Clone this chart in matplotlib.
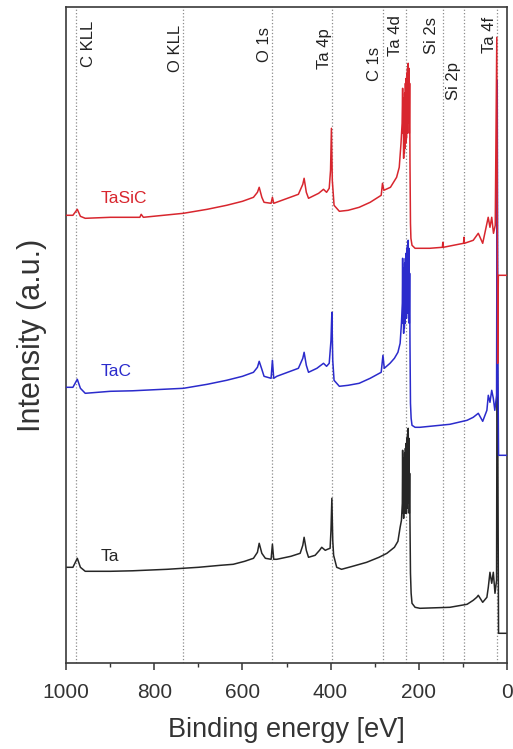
import matplotlib
matplotlib.use('Agg')
import matplotlib.pyplot as plt
from matplotlib.ticker import MultipleLocator

plt.rcParams['font.family'] = ['Liberation Sans', 'DejaVu Sans']

# XPS survey spectra (intensity in arbitrary units)
ta_energy = [1000, 985, 975, 968, 957, 900, 850, 771, 700, 650, 621, 595, 575, 566, 562,
             556, 548, 535, 532, 529, 522, 490, 469, 463, 460, 455, 450, 435, 425, 420,
             412, 407, 401, 399, 397, 395, 393, 386, 375, 350, 318, 290, 272, 255, 247,
             242, 239, 237, 236.3, 235.5, 234.8, 234, 233.2, 232.4, 231.6, 230.8, 230,
             229.2, 228.4, 227.6, 226.8, 226, 225.2, 224.4, 223.6, 222.8, 222, 221.2,
             220.4, 219.6, 218.5, 217, 215, 208, 197, 129, 90, 76, 68, 64.5, 54.5, 45,
             41.8, 38, 34, 30.4, 26.6, 23, 21.5, 20, 18.5, 0]
ta_counts = [96, 96, 105, 96, 92, 92, 92.5, 94, 96, 98, 99, 102, 105, 111, 120,
             110, 105, 104, 119, 104, 104, 107, 110, 118, 126, 113, 106, 108, 113, 116,
             113, 114, 115, 133, 165, 123, 108, 96, 94, 97, 101, 106, 110, 116, 122,
             136, 143, 160, 213, 150, 200, 145, 205, 150, 210, 150, 215,
             155, 220, 150, 225, 155, 228, 160, 235, 160, 225, 150,
             190, 140, 90, 70, 60, 56, 55, 56, 59, 63, 66, 68, 61, 66,
             76, 91, 80, 91, 70, 83, 403, 200, 30, 30]

tac_energy = [1000, 985, 975, 968, 957, 900, 850, 734, 680, 636, 600, 575, 566, 562, 556,
              551, 535, 532, 529, 522, 473, 463, 460, 455, 450, 431, 416, 409, 403, 399,
              397, 395, 392, 380, 360, 335, 310, 285, 281, 278, 265, 255, 247, 242, 239,
              237, 236.3, 235.5, 234.8, 234, 233.2, 232.4, 231.6, 230.8, 230, 229.2,
              228.4, 227.6, 226.8, 226, 225.2, 224.4, 223.6, 222.8, 222, 221.2, 220.4,
              219.6, 218.5, 217, 215, 208, 197, 129, 90, 76, 64.5, 54.5, 45, 41.8, 38,
              34, 30.4, 27, 23, 21.5, 20, 18.5, 0]
tac_counts = [276, 276, 284, 275, 270, 272, 272.5, 275, 279, 283, 287, 291, 296, 302, 294,
              287, 285, 303, 285, 287, 295, 305, 311, 298, 291, 295, 300, 297, 300, 323,
              351, 303, 283, 277, 278, 280, 285, 291, 308, 295, 300, 305, 311, 320, 340,
              360, 405, 340, 390, 330, 395, 335, 400, 340, 405, 345,
              410, 345, 415, 350, 418, 355, 423, 350, 415, 340, 390,
              320, 260, 245, 238, 236, 236, 239, 243, 246, 250, 242, 253, 268, 261,
              273, 265, 253, 268, 583, 300, 208, 208]

tasic_energy = [1000, 985, 975, 968, 957, 900, 833, 830, 825, 734, 680, 636, 600, 575, 566,
                562, 556, 551, 535, 532, 529, 473, 463, 460, 455, 450, 427, 416, 409, 403,
                400, 398, 396, 392, 380, 360, 335, 310, 285, 282, 279, 264, 250, 244, 240,
                237.5, 236.3, 235.5, 234.8, 234, 233.2, 232.4, 231.6, 230.8, 230, 229.2,
                228.4, 227.6, 226.8, 226, 225.2, 224.4, 223.6, 222.8, 222, 221.2, 220.4,
                219.6, 218.5, 217.5, 215, 208, 175, 146, 145, 144, 98, 97, 96, 76, 64.5,
                54.5, 42, 38, 34, 30, 26, 22.5, 20.5, 19, 0]
tasic_counts = [448, 448, 454, 447, 445, 446, 446, 449, 446, 450, 454, 458, 462, 466, 471,
                476, 466, 461, 460, 466, 460, 469, 479, 485, 471, 465, 470, 474, 471, 475,
                493, 535, 483, 458, 452, 453, 456, 461, 468, 480, 473, 476, 486, 496, 520,
                540, 575, 530, 560, 505, 565, 510, 570, 515, 580, 520,
                585, 525, 590, 530, 595, 540, 600, 545, 595, 530, 580,
                500, 440, 425, 418, 415, 415, 416, 421, 416, 420, 426, 420, 423, 430,
                420, 446, 436, 446, 430, 438, 626, 300, 388, 388]

series_names = ['Ta', 'TaC', 'TaSiC']
series_colors = ['#262626', '#2b2bcc', '#d8262e']
label_energy = [923, 923, 923]
label_counts = [107, 292, 465]

peak_names = ['C KLL', 'O KLL', 'O 1s', 'Ta 4p', 'C 1s', 'Ta 4d', 'Si 2s', 'Si 2p', 'Ta 4f']
peak_energy = [978, 734, 532, 397, 280, 229, 145, 97, 22]
# text placement for the peak labels (offset in px from the line, top of text)
peak_dx = [13, -8, -8, -7, -9, -10, -11, -10, -8]
peak_top = [643, 638, 636, 635, 616, 648, 646, 601, 646]

fig = plt.figure(figsize=(5.13, 7.49), dpi=100)
ax = fig.add_axes([66.3 / 513, 85.7 / 749, 440.4 / 513, 656 / 749])

for e in peak_energy:
    ax.axvline(e, color='#8c8c8c', ls=':', lw=0.9, zorder=1)

ax.plot(ta_energy, ta_counts, color=series_colors[0], lw=1.1, zorder=2)
ax.plot(tac_energy, tac_counts, color=series_colors[1], lw=1.1, zorder=3)
ax.plot(tasic_energy, tasic_counts, color=series_colors[2], lw=1.1, zorder=4)

for name, col, e, c in zip(series_names, series_colors, label_energy, label_counts):
    ax.text(e, c, name, color=col, fontsize=12.5, ha='left', va='center')

for name, e, dx, top in zip(peak_names, peak_energy, peak_dx, peak_top):
    ax.annotate(name, xy=(e, top), xytext=(dx * 0.72, 0), textcoords='offset points',
                rotation=90, ha='center', va='top', fontsize=12, color='#222222')

ax.set_xlim(1000, 0)
ax.set_ylim(0, 656)
ax.set_yticks([])
ax.xaxis.set_major_locator(MultipleLocator(200))
ax.xaxis.set_minor_locator(MultipleLocator(100))
ax.tick_params(axis='x', which='major', direction='out', length=5, width=1.1,
               labelsize=15, pad=9, colors='#333333')
ax.tick_params(axis='x', which='minor', direction='out', length=3, width=1.0, colors='#333333')
for sp in ax.spines.values():
    sp.set_color('#3a3a3a')
    sp.set_linewidth(1.2)

ax.set_xlabel('Binding energy [eV]', fontsize=19.5, color='#333333', labelpad=11)
ax.set_ylabel('Intensity (a.u.)', fontsize=22, color='#333333', labelpad=14)

fig.savefig('out.png', dpi=100)
